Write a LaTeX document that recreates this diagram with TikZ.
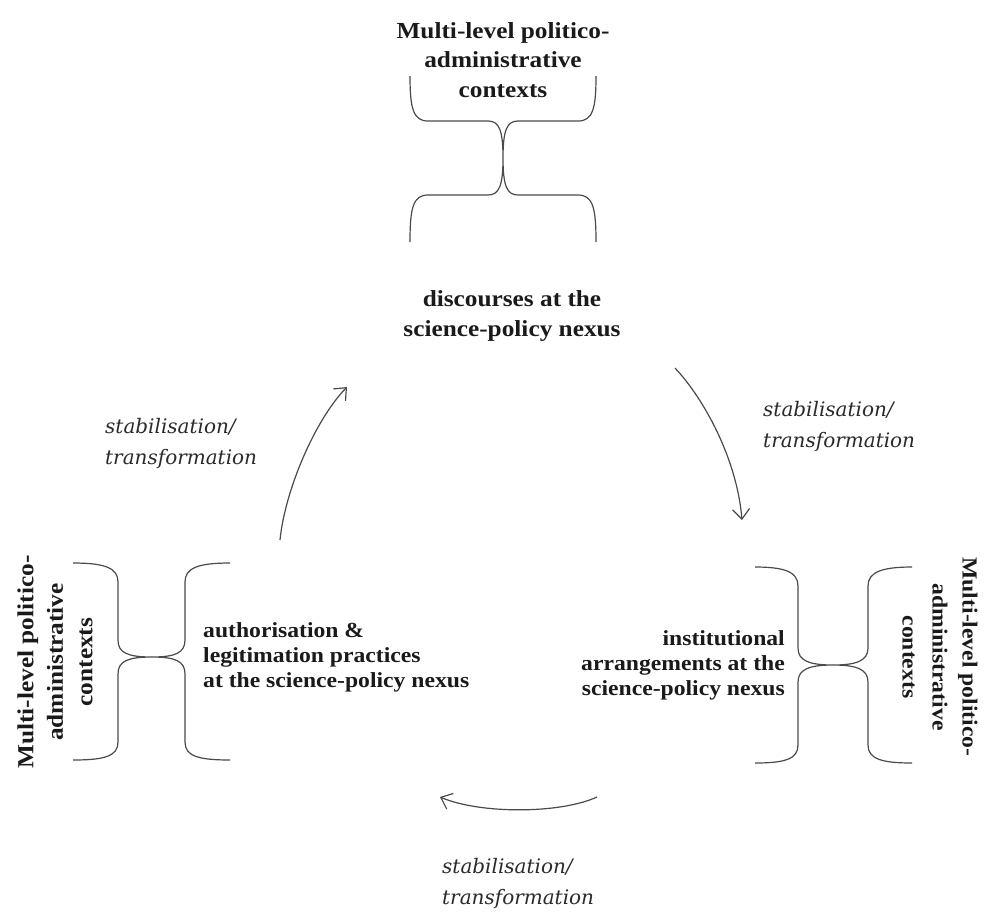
\documentclass[tikz,border=0pt]{standalone}
\usepackage{fontspec}
\usetikzlibrary{arrows.meta}
\setmainfont{Liberation Serif}
\newfontfamily\headfont[FakeStretch=1.10]{Liberation Serif}
\newfontfamily\cyclefont{DejaVu Serif}
\definecolor{inkdark}{HTML}{1A1A1A}
\definecolor{inkit}{HTML}{2A2A2A}
\definecolor{linegray}{HTML}{4A4A4A}

\tikzset{
  bracepath/.style={draw=linegray, line width=1.2pt},
  cyclearrow/.style={draw=linegray, line width=1.2pt,
    -{Straight Barb[length=10pt,width=17pt,line width=1.2pt]}},
  bigbold/.style={inner sep=0pt, text=inkdark, align=center,
    font=\headfont\bfseries\fontsize{23}{29.5}\selectfont},
  sidebold/.style={inner sep=0pt, text=inkdark,
    font=\headfont\bfseries\fontsize{21.5}{25}\selectfont},
  cyclelabel/.style={inner sep=0pt, text=inkit, align=left, anchor=west,
    font=\cyclefont\itshape\fontsize{20}{31}\selectfont},
}

\begin{document}
\begin{tikzpicture}[x=1pt,y=-1pt]
\useasboundingbox (0,0) rectangle (984,914);

% ---- top: contexts label and double brace ----
\node[bigbold] (topctx) at (503,60) {Multi-level politico-\\administrative\\contexts};
\draw[bracepath] (410,76) .. controls (410,108) and (413,121) .. (428,121) -- (488,121)
  .. controls (499,121) and (503,130) .. (503,158)
  .. controls (503,130) and (507,121) .. (518,121) -- (578,121)
  .. controls (593,121) and (596,108) .. (596,76);
\draw[bracepath] (410,242) .. controls (410,208) and (413,195) .. (428,195) -- (488,195)
  .. controls (499,195) and (503,186) .. (503,158)
  .. controls (503,186) and (507,195) .. (518,195) -- (578,195)
  .. controls (593,195) and (596,208) .. (596,242);

% ---- left: contexts label and double brace ----
\node[bigbold, rotate=90] (leftctx) at (55,662) {Multi-level politico-\\administrative\\contexts};
\draw[bracepath] (73,563) .. controls (105,563) and (118,568) .. (118,582) -- (118,640)
  .. controls (118,653) and (128,657) .. (152,657)
  .. controls (128,657) and (118,661) .. (118,674) -- (118,742)
  .. controls (118,756) and (105,760) .. (73,760);
\draw[bracepath] (230,563) .. controls (198,563) and (185,568) .. (185,582) -- (185,640)
  .. controls (185,653) and (175,657) .. (152,657)
  .. controls (175,657) and (185,661) .. (185,674) -- (185,742)
  .. controls (185,756) and (198,760) .. (230,760);

% ---- right: contexts label and double brace ----
\node[bigbold, rotate=-90, font=\headfont\bfseries\fontsize{21.5}{30}\selectfont]
  (rightctx) at (940,657) {Multi-level politico-\\administrative\\contexts};
\draw[bracepath] (755,567) .. controls (785,567) and (798,572) .. (798,586) -- (798,648)
  .. controls (798,661) and (810,665) .. (833,665)
  .. controls (810,665) and (798,669) .. (798,682) -- (798,745)
  .. controls (798,759) and (785,763) .. (755,763);
\draw[bracepath] (912,567) .. controls (882,567) and (868,572) .. (868,586) -- (868,648)
  .. controls (868,661) and (856,665) .. (833,665)
  .. controls (856,665) and (868,669) .. (868,682) -- (868,745)
  .. controls (868,759) and (882,763) .. (912,763);

% ---- the three elements of the cycle ----
\node[bigbold] (disc) at (512,316) {discourses at the\\science-policy nexus};
\node[sidebold, align=left, anchor=west] (auth) at (203,657)
  {authorisation \&\\legitimation practices\\at the science-policy nexus};
\node[sidebold, align=right, anchor=east] (inst) at (785,665)
  {institutional\\arrangements at the\\science-policy nexus};

% ---- arrows of the cycle ----
\coordinate (a1s) at (675,368);  \coordinate (a1e) at (742,520);
\coordinate (a2s) at (597,797);  \coordinate (a2e) at (440,797);
\coordinate (a3s) at (280,540);  \coordinate (a3e) at (347,387);
\draw[cyclearrow] (a1s) .. controls (705,400) and (737,460) .. (a1e);
\draw[cyclearrow] (a2s) .. controls (560,814) and (480,814) .. (a2e);
\draw[cyclearrow] (a3s) .. controls (285,490) and (315,420) .. (a3e);

% ---- arrow labels ----
\node[cyclelabel] (lab1) at (763,426) {stabilisation/\\transformation};
\node[cyclelabel] (lab2) at (442,883) {stabilisation/\\transformation};
\node[cyclelabel] (lab3) at (105,443) {stabilisation/\\transformation};
\end{tikzpicture}
\end{document}
